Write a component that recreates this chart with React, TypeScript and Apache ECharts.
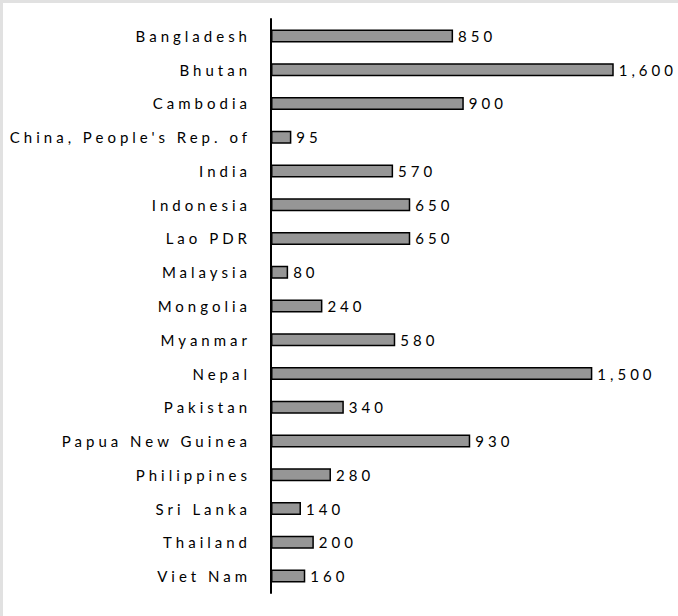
import React, { useEffect, useRef } from "react";
import * as echarts from "echarts";

const categories = [
  "Bangladesh",
  "Bhutan",
  "Cambodia",
  "China, People's Rep. of",
  "India",
  "Indonesia",
  "Lao PDR",
  "Malaysia",
  "Mongolia",
  "Myanmar",
  "Nepal",
  "Pakistan",
  "Papua New Guinea",
  "Philippines",
  "Sri Lanka",
  "Thailand",
  "Viet Nam",
];

const values = [850, 1600, 900, 95, 570, 650, 650, 80, 240, 580, 1500, 340, 930, 280, 140, 200, 160];

const FONT = "Lato, 'Open Sans', sans-serif";

export default function App() {
  const ref = useRef<HTMLDivElement>(null);
  useEffect(() => {
    if (!ref.current) return;
    const chart = echarts.init(ref.current, undefined, { renderer: "svg" });
    chart.setOption({
      animation: false,
      backgroundColor: "#ffffff",
      grid: { left: 268, top: 16, width: 385.6, height: 574, containLabel: false },
      xAxis: {
        type: "value",
        min: 0,
        max: 1800,
        show: false,
        splitLine: { show: false },
      },
      yAxis: {
        type: "category",
        data: categories,
        inverse: true,
        axisLine: { show: true, lineStyle: { color: "#000000", width: 2 } },
        axisTick: { show: false },
        axisLabel: {
          color: "#000000",
          fontFamily: FONT,
          fontSize: 15,
          margin: 20,
        },
        splitLine: { show: false },
      },
      series: [
        {
          type: "bar",
          data: values,
          barWidth: 13,
          itemStyle: { color: "#969696", borderColor: "#000000", borderWidth: 1.5 },
          label: {
            show: true,
            position: "right",
            distance: 5,
            color: "#000000",
            fontFamily: FONT,
            fontSize: 15,
            formatter: (p: any) => Number(p.value).toLocaleString("en-US"),
          },
        },
      ],
    });
    return () => chart.dispose();
  }, []);
  return (
    <div
      style={{
        position: "fixed",
        left: 0,
        top: 0,
        width: 678,
        height: 616,
        background: "#e1e1e1",
      }}
    >
      <div
        ref={ref}
        style={{
          position: "absolute",
          left: 3,
          top: 3,
          width: 675,
          height: 613,
          background: "#ffffff",
          letterSpacing: "4px",
        }}
      />
    </div>
  );
}
